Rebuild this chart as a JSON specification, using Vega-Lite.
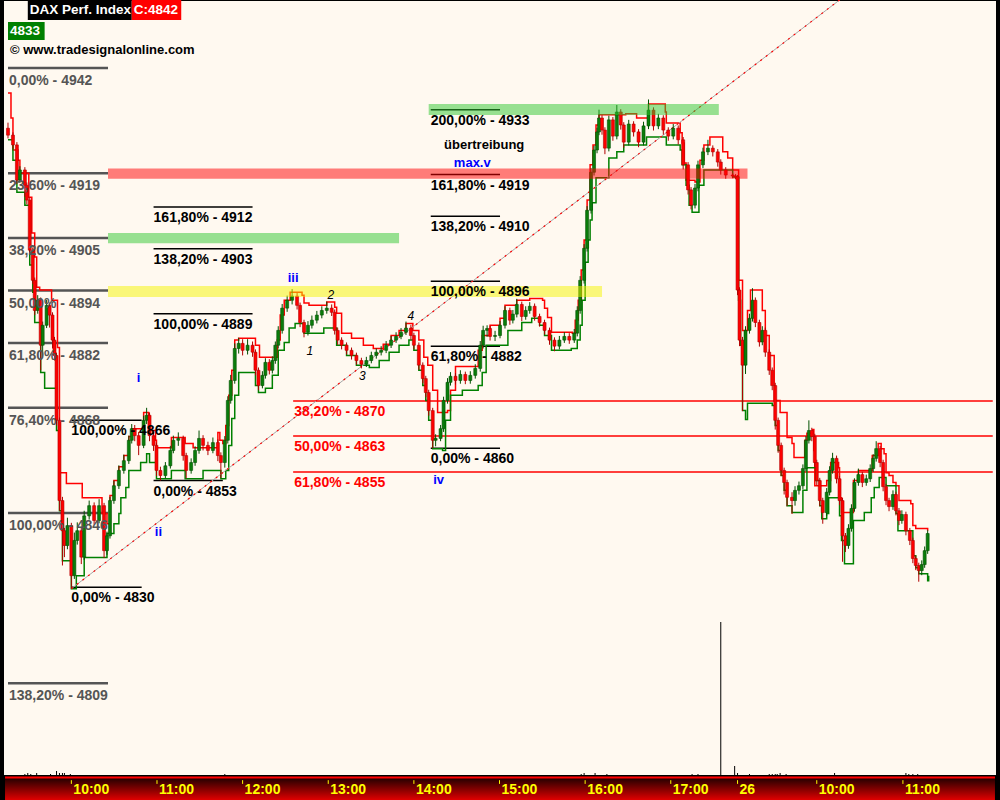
{
"$schema": "https://vega.github.io/schema/vega-lite/v6.json",
"width": 994, "height": 776,
"autosize": {"type": "none"},
"padding": {"left": 3, "right": 3, "top": 0, "bottom": 24},
"background": "#000000",
"config": {"view": {"fill": "#FFF9F0", "stroke": "#000000", "strokeWidth": 2}, "font": "Liberation Sans"},
"datasets": {
"candles": [
{"t":0.26,"o":4929.0,"h":4930.2,"l":4926.8,"c":4927.5},
{"t":0.318,"o":4927.5,"h":4928.1,"l":4924.6,"c":4925.4},
{"t":0.364,"o":4925.4,"h":4926.0,"l":4917.0,"c":4917.8},
{"t":0.399,"o":4917.8,"h":4920.8,"l":4917.2,"c":4920.0},
{"t":0.457,"o":4920.0,"h":4920.6,"l":4914.2,"c":4916.7},
{"t":0.48,"o":4916.7,"h":4917.3,"l":4912.6,"c":4913.5},
{"t":0.514,"o":4913.5,"h":4914.1,"l":4901.9,"c":4902.7},
{"t":0.549,"o":4902.7,"h":4903.3,"l":4895.4,"c":4896.2},
{"t":0.572,"o":4896.2,"h":4896.8,"l":4888.7,"c":4889.7},
{"t":0.607,"o":4889.7,"h":4893.0,"l":4889.0,"c":4891.9},
{"t":0.642,"o":4891.9,"h":4892.5,"l":4876.8,"c":4882.2},
{"t":0.665,"o":4882.2,"h":4887.3,"l":4880.0,"c":4886.5},
{"t":0.711,"o":4886.5,"h":4892.0,"l":4885.9,"c":4890.8},
{"t":0.746,"o":4890.8,"h":4891.4,"l":4886.0,"c":4888.7},
{"t":0.78,"o":4888.7,"h":4889.3,"l":4881.5,"c":4883.3},
{"t":0.803,"o":4883.3,"h":4884.0,"l":4878.9,"c":4880.0},
{"t":0.827,"o":4880.0,"h":4880.6,"l":4864.9,"c":4866.0},
{"t":0.861,"o":4866.0,"h":4866.6,"l":4846.5,"c":4848.7},
{"t":0.896,"o":4848.7,"h":4849.5,"l":4834.7,"c":4842.2},
{"t":0.919,"o":4842.2,"h":4842.8,"l":4836.5,"c":4839.0},
{"t":0.954,"o":4839.0,"h":4845.0,"l":4838.2,"c":4843.3},
{"t":1.0,"o":4843.3,"h":4843.9,"l":4829.7,"c":4832.5},
{"t":1.035,"o":4832.5,"h":4841.8,"l":4831.8,"c":4840.1},
{"t":1.069,"o":4840.1,"h":4844.0,"l":4839.2,"c":4842.2},
{"t":1.116,"o":4842.2,"h":4842.8,"l":4835.0,"c":4836.5},
{"t":1.15,"o":4836.5,"h":4846.5,"l":4835.9,"c":4845.4},
{"t":1.208,"o":4845.4,"h":4848.7,"l":4844.6,"c":4847.6},
{"t":1.266,"o":4847.6,"h":4848.3,"l":4843.5,"c":4844.4},
{"t":1.324,"o":4844.4,"h":4849.0,"l":4843.8,"c":4847.6},
{"t":1.382,"o":4847.6,"h":4848.2,"l":4836.3,"c":4837.9},
{"t":1.416,"o":4837.9,"h":4842.0,"l":4837.0,"c":4841.1},
{"t":1.451,"o":4841.1,"h":4849.5,"l":4840.5,"c":4848.7},
{"t":1.497,"o":4848.7,"h":4853.0,"l":4848.0,"c":4851.9},
{"t":1.555,"o":4851.9,"h":4856.3,"l":4851.2,"c":4855.2},
{"t":1.613,"o":4855.2,"h":4858.6,"l":4854.5,"c":4857.3},
{"t":1.671,"o":4857.3,"h":4862.7,"l":4856.6,"c":4861.7},
{"t":1.705,"o":4861.7,"h":4865.2,"l":4861.0,"c":4864.2},
{"t":1.74,"o":4864.2,"h":4865.0,"l":4861.5,"c":4862.7},
{"t":1.786,"o":4862.7,"h":4863.5,"l":4858.5,"c":4860.6},
{"t":1.844,"o":4860.6,"h":4867.0,"l":4860.0,"c":4866.0},
{"t":1.879,"o":4866.0,"h":4868.7,"l":4865.2,"c":4867.1},
{"t":1.913,"o":4867.1,"h":4867.7,"l":4861.5,"c":4862.7},
{"t":1.96,"o":4862.7,"h":4863.5,"l":4859.4,"c":4860.6},
{"t":1.994,"o":4860.6,"h":4861.2,"l":4854.0,"c":4855.2},
{"t":2.04,"o":4855.2,"h":4856.0,"l":4853.0,"c":4854.1},
{"t":2.098,"o":4854.1,"h":4857.0,"l":4853.5,"c":4856.2},
{"t":2.156,"o":4856.2,"h":4860.5,"l":4855.6,"c":4859.5},
{"t":2.191,"o":4859.5,"h":4862.7,"l":4858.9,"c":4861.7},
{"t":2.249,"o":4861.7,"h":4863.4,"l":4860.5,"c":4862.1},
{"t":2.306,"o":4862.1,"h":4862.7,"l":4857.3,"c":4858.4},
{"t":2.341,"o":4858.4,"h":4859.0,"l":4853.5,"c":4855.2},
{"t":2.399,"o":4855.2,"h":4857.8,"l":4854.5,"c":4856.9},
{"t":2.445,"o":4856.9,"h":4860.4,"l":4856.2,"c":4859.5},
{"t":2.491,"o":4859.5,"h":4863.8,"l":4858.8,"c":4862.1},
{"t":2.538,"o":4862.1,"h":4862.8,"l":4859.5,"c":4860.6},
{"t":2.595,"o":4860.6,"h":4861.4,"l":4858.5,"c":4859.5},
{"t":2.653,"o":4859.5,"h":4862.3,"l":4858.9,"c":4861.2},
{"t":2.711,"o":4861.2,"h":4861.9,"l":4857.2,"c":4858.4},
{"t":2.746,"o":4858.4,"h":4859.1,"l":4853.6,"c":4856.9},
{"t":2.792,"o":4856.9,"h":4862.6,"l":4855.8,"c":4861.7},
{"t":2.827,"o":4861.7,"h":4871.2,"l":4861.0,"c":4870.3},
{"t":2.861,"o":4870.3,"h":4875.8,"l":4869.6,"c":4874.6},
{"t":2.908,"o":4874.6,"h":4882.6,"l":4873.9,"c":4881.5},
{"t":2.954,"o":4881.5,"h":4883.8,"l":4880.4,"c":4882.6},
{"t":3.0,"o":4882.6,"h":4883.5,"l":4880.0,"c":4881.1},
{"t":3.058,"o":4881.1,"h":4883.5,"l":4880.2,"c":4882.2},
{"t":3.116,"o":4882.2,"h":4883.0,"l":4879.7,"c":4880.7},
{"t":3.15,"o":4880.7,"h":4881.3,"l":4875.7,"c":4876.8},
{"t":3.185,"o":4876.8,"h":4877.4,"l":4872.5,"c":4873.5},
{"t":3.231,"o":4873.5,"h":4876.6,"l":4872.9,"c":4875.7},
{"t":3.266,"o":4875.7,"h":4879.4,"l":4875.0,"c":4878.5},
{"t":3.312,"o":4878.5,"h":4879.2,"l":4875.9,"c":4876.8},
{"t":3.347,"o":4876.8,"h":4879.8,"l":4876.1,"c":4878.9},
{"t":3.382,"o":4878.9,"h":4883.0,"l":4878.2,"c":4882.2},
{"t":3.416,"o":4882.2,"h":4886.3,"l":4881.5,"c":4885.4},
{"t":3.462,"o":4885.4,"h":4891.1,"l":4884.7,"c":4890.2},
{"t":3.52,"o":4890.2,"h":4892.9,"l":4889.4,"c":4891.9},
{"t":3.578,"o":4891.9,"h":4894.3,"l":4891.0,"c":4892.8},
{"t":3.636,"o":4892.8,"h":4893.5,"l":4889.9,"c":4890.8},
{"t":3.671,"o":4890.8,"h":4891.4,"l":4886.1,"c":4887.1},
{"t":3.717,"o":4887.1,"h":4887.7,"l":4883.9,"c":4885.0},
{"t":3.763,"o":4885.0,"h":4887.4,"l":4884.3,"c":4886.5},
{"t":3.809,"o":4886.5,"h":4888.6,"l":4885.8,"c":4887.6},
{"t":3.867,"o":4887.6,"h":4889.6,"l":4886.9,"c":4888.7},
{"t":3.925,"o":4888.7,"h":4890.6,"l":4888.0,"c":4889.7},
{"t":3.983,"o":4889.7,"h":4891.6,"l":4889.0,"c":4890.2},
{"t":4.04,"o":4890.2,"h":4891.0,"l":4888.5,"c":4889.3},
{"t":4.075,"o":4889.3,"h":4889.9,"l":4884.5,"c":4885.4},
{"t":4.11,"o":4885.4,"h":4886.0,"l":4882.3,"c":4883.3},
{"t":4.156,"o":4883.3,"h":4883.9,"l":4881.3,"c":4882.2},
{"t":4.214,"o":4882.2,"h":4882.8,"l":4880.2,"c":4881.1},
{"t":4.272,"o":4881.1,"h":4881.7,"l":4879.1,"c":4880.0},
{"t":4.329,"o":4880.0,"h":4880.6,"l":4878.0,"c":4878.9},
{"t":4.387,"o":4878.9,"h":4879.5,"l":4877.2,"c":4878.1},
{"t":4.445,"o":4878.1,"h":4879.7,"l":4877.5,"c":4878.9},
{"t":4.503,"o":4878.9,"h":4880.8,"l":4878.3,"c":4880.0},
{"t":4.561,"o":4880.0,"h":4881.5,"l":4879.3,"c":4880.7},
{"t":4.618,"o":4880.7,"h":4882.0,"l":4880.0,"c":4881.1},
{"t":4.676,"o":4881.1,"h":4883.1,"l":4880.5,"c":4882.2},
{"t":4.734,"o":4882.2,"h":4884.2,"l":4881.6,"c":4883.3},
{"t":4.792,"o":4883.3,"h":4885.0,"l":4882.7,"c":4884.1},
{"t":4.85,"o":4884.1,"h":4885.9,"l":4883.5,"c":4885.0},
{"t":4.908,"o":4885.0,"h":4887.3,"l":4884.4,"c":4885.9},
{"t":4.965,"o":4885.9,"h":4886.6,"l":4883.4,"c":4884.3},
{"t":5.0,"o":4884.3,"h":4884.9,"l":4881.3,"c":4882.2},
{"t":5.058,"o":4882.2,"h":4882.8,"l":4876.9,"c":4877.9},
{"t":5.104,"o":4877.9,"h":4878.5,"l":4874.0,"c":4875.0},
{"t":5.139,"o":4875.0,"h":4875.6,"l":4871.0,"c":4872.0},
{"t":5.173,"o":4872.0,"h":4872.6,"l":4867.0,"c":4868.1},
{"t":5.22,"o":4868.1,"h":4868.7,"l":4860.0,"c":4861.7},
{"t":5.254,"o":4861.7,"h":4863.0,"l":4860.4,"c":4862.1},
{"t":5.312,"o":4862.1,"h":4865.0,"l":4861.5,"c":4864.2},
{"t":5.347,"o":4864.2,"h":4871.1,"l":4863.5,"c":4870.3},
{"t":5.393,"o":4870.3,"h":4875.1,"l":4869.6,"c":4874.2},
{"t":5.428,"o":4874.2,"h":4876.4,"l":4873.5,"c":4875.5},
{"t":5.486,"o":4875.5,"h":4876.2,"l":4873.7,"c":4874.6},
{"t":5.543,"o":4874.6,"h":4876.8,"l":4873.9,"c":4875.9},
{"t":5.601,"o":4875.9,"h":4876.5,"l":4873.8,"c":4874.6},
{"t":5.659,"o":4874.6,"h":4876.6,"l":4873.9,"c":4875.7},
{"t":5.717,"o":4875.7,"h":4878.1,"l":4875.0,"c":4877.2},
{"t":5.775,"o":4877.2,"h":4883.1,"l":4876.5,"c":4882.2},
{"t":5.809,"o":4882.2,"h":4886.4,"l":4881.5,"c":4885.4},
{"t":5.855,"o":4885.4,"h":4886.5,"l":4884.0,"c":4885.8},
{"t":5.89,"o":4885.8,"h":4886.4,"l":4883.2,"c":4884.1},
{"t":5.948,"o":4884.1,"h":4885.3,"l":4883.1,"c":4884.3},
{"t":6.006,"o":4884.3,"h":4887.4,"l":4883.7,"c":4886.5},
{"t":6.064,"o":4886.5,"h":4890.6,"l":4885.8,"c":4889.7},
{"t":6.121,"o":4889.7,"h":4890.3,"l":4886.6,"c":4887.6},
{"t":6.156,"o":4887.6,"h":4889.8,"l":4886.9,"c":4888.9},
{"t":6.202,"o":4888.9,"h":4892.2,"l":4888.2,"c":4891.0},
{"t":6.26,"o":4891.0,"h":4891.6,"l":4887.4,"c":4888.4},
{"t":6.306,"o":4888.4,"h":4890.6,"l":4887.7,"c":4889.7},
{"t":6.353,"o":4889.7,"h":4891.5,"l":4889.0,"c":4890.6},
{"t":6.41,"o":4890.6,"h":4891.2,"l":4887.5,"c":4888.4},
{"t":6.468,"o":4888.4,"h":4889.0,"l":4886.2,"c":4887.1},
{"t":6.526,"o":4887.1,"h":4887.7,"l":4884.5,"c":4885.4},
{"t":6.584,"o":4885.4,"h":4886.0,"l":4882.3,"c":4883.3},
{"t":6.642,"o":4883.3,"h":4883.9,"l":4880.9,"c":4882.0},
{"t":6.699,"o":4882.0,"h":4884.2,"l":4881.3,"c":4883.3},
{"t":6.757,"o":4883.3,"h":4885.0,"l":4882.7,"c":4884.1},
{"t":6.815,"o":4884.1,"h":4884.8,"l":4882.5,"c":4883.3},
{"t":6.873,"o":4883.3,"h":4885.7,"l":4882.7,"c":4884.8},
{"t":6.908,"o":4884.8,"h":4890.6,"l":4884.1,"c":4889.7},
{"t":6.942,"o":4889.7,"h":4897.1,"l":4889.0,"c":4896.2},
{"t":6.988,"o":4896.2,"h":4904.0,"l":4895.5,"c":4903.1},
{"t":7.023,"o":4903.1,"h":4912.2,"l":4902.4,"c":4911.3},
{"t":7.069,"o":4911.3,"h":4920.4,"l":4910.6,"c":4919.5},
{"t":7.104,"o":4919.5,"h":4925.2,"l":4918.8,"c":4924.3},
{"t":7.139,"o":4924.3,"h":4929.1,"l":4923.6,"c":4928.2},
{"t":7.162,"o":4928.2,"h":4933.0,"l":4927.5,"c":4931.2},
{"t":7.197,"o":4931.2,"h":4931.8,"l":4927.6,"c":4928.6},
{"t":7.231,"o":4928.6,"h":4929.2,"l":4923.4,"c":4924.7},
{"t":7.277,"o":4924.7,"h":4931.7,"l":4924.0,"c":4930.8},
{"t":7.324,"o":4930.8,"h":4931.4,"l":4926.3,"c":4927.3},
{"t":7.37,"o":4927.3,"h":4934.0,"l":4926.6,"c":4932.5},
{"t":7.416,"o":4932.5,"h":4933.1,"l":4928.7,"c":4929.7},
{"t":7.451,"o":4929.7,"h":4930.3,"l":4924.8,"c":4926.0},
{"t":7.509,"o":4926.0,"h":4930.8,"l":4925.3,"c":4929.9},
{"t":7.566,"o":4929.9,"h":4930.5,"l":4927.2,"c":4928.2},
{"t":7.624,"o":4928.2,"h":4928.8,"l":4924.9,"c":4926.0},
{"t":7.682,"o":4926.0,"h":4930.4,"l":4925.3,"c":4929.5},
{"t":7.74,"o":4929.5,"h":4935.2,"l":4928.8,"c":4932.9},
{"t":7.798,"o":4932.9,"h":4933.5,"l":4928.5,"c":4929.5},
{"t":7.855,"o":4929.5,"h":4932.1,"l":4928.8,"c":4931.2},
{"t":7.913,"o":4931.2,"h":4931.8,"l":4927.6,"c":4928.6},
{"t":7.971,"o":4928.6,"h":4929.2,"l":4926.3,"c":4927.3},
{"t":8.029,"o":4927.3,"h":4929.9,"l":4926.6,"c":4929.0},
{"t":8.087,"o":4929.0,"h":4929.6,"l":4925.5,"c":4926.5},
{"t":8.145,"o":4926.5,"h":4927.1,"l":4920.1,"c":4921.1},
{"t":8.202,"o":4921.1,"h":4921.7,"l":4914.7,"c":4915.7},
{"t":8.237,"o":4915.7,"h":4916.3,"l":4911.5,"c":4912.4},
{"t":8.283,"o":4912.4,"h":4917.0,"l":4911.7,"c":4916.1},
{"t":8.318,"o":4916.1,"h":4922.0,"l":4915.4,"c":4921.1},
{"t":8.376,"o":4921.1,"h":4924.8,"l":4920.4,"c":4923.9},
{"t":8.434,"o":4923.9,"h":4926.5,"l":4923.2,"c":4924.7},
{"t":8.491,"o":4924.7,"h":4925.3,"l":4922.9,"c":4923.9},
{"t":8.549,"o":4923.9,"h":4924.5,"l":4920.7,"c":4921.7},
{"t":8.584,"o":4921.7,"h":4922.3,"l":4919.0,"c":4920.0},
{"t":8.642,"o":4920.0,"h":4920.6,"l":4918.1,"c":4918.9},
{"t":8.723,"o":4918.9,"h":4919.3,"l":4918.2,"c":4918.7},
{"t":8.757,"o":4918.7,"h":4919.1,"l":4918.0,"c":4918.5},
{"t":8.78,"o":4918.5,"h":4918.9,"l":4893.0,"c":4894.1},
{"t":8.803,"o":4894.1,"h":4894.7,"l":4882.0,"c":4883.3},
{"t":8.838,"o":4883.3,"h":4884.0,"l":4868.0,"c":4877.9},
{"t":8.873,"o":4877.9,"h":4886.3,"l":4876.0,"c":4885.4},
{"t":8.919,"o":4885.4,"h":4889.0,"l":4884.7,"c":4888.0},
{"t":8.954,"o":4888.0,"h":4894.5,"l":4887.3,"c":4891.9},
{"t":8.988,"o":4891.9,"h":4892.5,"l":4886.1,"c":4887.1},
{"t":9.035,"o":4887.1,"h":4887.7,"l":4881.9,"c":4882.9},
{"t":9.069,"o":4882.9,"h":4886.3,"l":4882.2,"c":4885.4},
{"t":9.104,"o":4885.4,"h":4886.0,"l":4879.7,"c":4880.7},
{"t":9.15,"o":4880.7,"h":4881.3,"l":4875.8,"c":4876.8},
{"t":9.185,"o":4876.8,"h":4877.4,"l":4872.5,"c":4873.5},
{"t":9.22,"o":4873.5,"h":4874.1,"l":4864.0,"c":4866.0},
{"t":9.254,"o":4866.0,"h":4866.6,"l":4859.0,"c":4860.6},
{"t":9.289,"o":4860.6,"h":4861.2,"l":4854.0,"c":4855.2},
{"t":9.324,"o":4855.2,"h":4855.8,"l":4850.0,"c":4852.6},
{"t":9.358,"o":4852.6,"h":4853.2,"l":4847.5,"c":4849.4},
{"t":9.416,"o":4849.4,"h":4850.5,"l":4845.8,"c":4848.7},
{"t":9.451,"o":4848.7,"h":4851.8,"l":4847.6,"c":4850.9},
{"t":9.497,"o":4850.9,"h":4852.8,"l":4850.0,"c":4851.9},
{"t":9.543,"o":4851.9,"h":4856.5,"l":4851.2,"c":4855.6},
{"t":9.578,"o":4855.6,"h":4862.6,"l":4855.0,"c":4861.7},
{"t":9.613,"o":4861.7,"h":4866.0,"l":4861.0,"c":4863.8},
{"t":9.647,"o":4863.8,"h":4864.4,"l":4861.5,"c":4862.5},
{"t":9.682,"o":4862.5,"h":4863.1,"l":4855.9,"c":4856.9},
{"t":9.705,"o":4856.9,"h":4857.5,"l":4852.0,"c":4853.0},
{"t":9.74,"o":4853.0,"h":4853.6,"l":4847.5,"c":4848.7},
{"t":9.775,"o":4848.7,"h":4849.3,"l":4843.7,"c":4846.1},
{"t":9.821,"o":4846.1,"h":4851.4,"l":4845.4,"c":4850.5},
{"t":9.855,"o":4850.5,"h":4856.1,"l":4849.8,"c":4855.2},
{"t":9.89,"o":4855.2,"h":4859.0,"l":4854.5,"c":4857.8},
{"t":9.936,"o":4857.8,"h":4858.4,"l":4852.4,"c":4853.4},
{"t":9.971,"o":4853.4,"h":4854.0,"l":4847.7,"c":4848.7},
{"t":10.006,"o":4848.7,"h":4849.3,"l":4835.5,"c":4841.1},
{"t":10.04,"o":4841.1,"h":4841.7,"l":4837.6,"c":4839.0},
{"t":10.075,"o":4839.0,"h":4843.6,"l":4838.3,"c":4842.7},
{"t":10.11,"o":4842.7,"h":4847.9,"l":4842.0,"c":4847.0},
{"t":10.145,"o":4847.0,"h":4853.5,"l":4846.3,"c":4852.6},
{"t":10.191,"o":4852.6,"h":4855.6,"l":4851.9,"c":4854.3},
{"t":10.237,"o":4854.3,"h":4854.9,"l":4851.6,"c":4852.6},
{"t":10.283,"o":4852.6,"h":4854.3,"l":4851.9,"c":4853.4},
{"t":10.329,"o":4853.4,"h":4856.5,"l":4852.7,"c":4855.6},
{"t":10.364,"o":4855.6,"h":4858.7,"l":4854.9,"c":4857.8},
{"t":10.399,"o":4857.8,"h":4861.5,"l":4857.1,"c":4859.9},
{"t":10.445,"o":4859.9,"h":4860.5,"l":4855.9,"c":4856.9},
{"t":10.48,"o":4856.9,"h":4857.5,"l":4850.7,"c":4851.7},
{"t":10.514,"o":4851.7,"h":4852.3,"l":4847.7,"c":4848.7},
{"t":10.549,"o":4848.7,"h":4849.3,"l":4846.4,"c":4847.4},
{"t":10.595,"o":4847.4,"h":4850.9,"l":4846.7,"c":4850.0},
{"t":10.63,"o":4850.0,"h":4850.6,"l":4845.5,"c":4846.5},
{"t":10.665,"o":4846.5,"h":4847.1,"l":4843.4,"c":4844.4},
{"t":10.699,"o":4844.4,"h":4846.6,"l":4843.7,"c":4845.7},
{"t":10.746,"o":4845.7,"h":4846.3,"l":4841.2,"c":4842.2},
{"t":10.792,"o":4842.2,"h":4842.8,"l":4839.1,"c":4840.1},
{"t":10.827,"o":4840.1,"h":4840.7,"l":4835.2,"c":4836.2},
{"t":10.861,"o":4836.2,"h":4836.8,"l":4833.7,"c":4834.7},
{"t":10.896,"o":4834.7,"h":4835.3,"l":4831.2,"c":4833.6},
{"t":10.931,"o":4833.6,"h":4835.8,"l":4832.6,"c":4834.9},
{"t":10.965,"o":4834.9,"h":4838.8,"l":4834.2,"c":4837.9},
{"t":11.0,"o":4837.9,"h":4842.3,"l":4837.2,"c":4841.6}
],
"steps": [
{"t":0.26,"v":4936.6,"s":"r"},{"t":0.295,"v":4931.2,"s":"r"},{"t":0.318,"v":4924.3,"s":"r"},{"t":0.376,"v":4922.1,"s":"r"},{"t":0.399,"v":4919.3,"s":"r"},{"t":0.503,"v":4914.1,"s":"r"},{"t":0.538,"v":4906.4,"s":"r"},{"t":0.572,"v":4901.2,"s":"r"},{"t":0.595,"v":4894.7,"s":"r"},{"t":0.63,"v":4894.1,"s":"r"},{"t":0.769,"v":4891.9,"s":"r"},{"t":0.838,"v":4881.7,"s":"r"},{"t":0.861,"v":4854.7,"s":"r"},{"t":0.942,"v":4852.4,"s":"r"},{"t":1.127,"v":4849.3,"s":"r"},{"t":1.358,"v":4845.9,"s":"r"},{"t":1.416,"v":4843.7,"s":"r"},{"t":1.451,"v":4849.8,"s":"r"},{"t":1.497,"v":4853.0,"s":"r"},{"t":1.555,"v":4856.0,"s":"r"},{"t":1.613,"v":4858.4,"s":"r"},{"t":1.671,"v":4862.5,"s":"r"},{"t":1.705,"v":4864.2,"s":"r"},{"t":1.844,"v":4867.7,"s":"r"},{"t":1.902,"v":4863.8,"s":"r"},{"t":1.983,"v":4861.7,"s":"r"},{"t":1.994,"v":4860.1,"s":"r"},{"t":2.168,"v":4862.3,"s":"r"},{"t":2.329,"v":4861.0,"s":"r"},{"t":2.422,"v":4860.1,"s":"r"},{"t":2.711,"v":4863.4,"s":"r"},{"t":2.734,"v":4861.7,"s":"r"},{"t":2.769,"v":4861.0,"s":"r"},{"t":2.803,"v":4864.9,"s":"r"},{"t":2.838,"v":4871.4,"s":"r"},{"t":2.873,"v":4876.8,"s":"r"},{"t":2.908,"v":4883.3,"s":"r"},{"t":2.954,"v":4883.7,"s":"r"},{"t":3.15,"v":4882.2,"s":"r"},{"t":3.197,"v":4879.6,"s":"r"},{"t":3.382,"v":4879.6,"s":"r"},{"t":3.405,"v":4883.3,"s":"r"},{"t":3.439,"v":4888.7,"s":"r"},{"t":3.486,"v":4891.9,"s":"r"},{"t":3.555,"v":4893.6,"s":"r"},{"t":3.694,"v":4893.0,"s":"r"},{"t":3.717,"v":4891.3,"s":"r"},{"t":3.775,"v":4890.8,"s":"r"},{"t":3.983,"v":4891.5,"s":"r"},{"t":4.075,"v":4890.4,"s":"r"},{"t":4.098,"v":4889.1,"s":"r"},{"t":4.156,"v":4884.8,"s":"r"},{"t":4.272,"v":4883.7,"s":"r"},{"t":4.41,"v":4882.2,"s":"r"},{"t":4.526,"v":4881.5,"s":"r"},{"t":4.642,"v":4882.4,"s":"r"},{"t":4.734,"v":4884.3,"s":"r"},{"t":4.827,"v":4885.4,"s":"r"},{"t":4.908,"v":4886.9,"s":"r"},{"t":4.988,"v":4885.4,"s":"r"},{"t":5.058,"v":4883.3,"s":"r"},{"t":5.116,"v":4879.6,"s":"r"},{"t":5.162,"v":4877.9,"s":"r"},{"t":5.22,"v":4872.5,"s":"r"},{"t":5.277,"v":4867.7,"s":"r"},{"t":5.393,"v":4868.1,"s":"r"},{"t":5.428,"v":4872.5,"s":"r"},{"t":5.486,"v":4877.6,"s":"r"},{"t":5.751,"v":4881.1,"s":"r"},{"t":5.798,"v":4884.3,"s":"r"},{"t":5.89,"v":4886.5,"s":"r"},{"t":6.006,"v":4888.0,"s":"r"},{"t":6.064,"v":4890.8,"s":"r"},{"t":6.202,"v":4891.9,"s":"r"},{"t":6.353,"v":4892.3,"s":"r"},{"t":6.503,"v":4891.9,"s":"r"},{"t":6.526,"v":4890.2,"s":"r"},{"t":6.561,"v":4888.2,"s":"r"},{"t":6.607,"v":4885.0,"s":"r"},{"t":6.85,"v":4884.8,"s":"r"},{"t":6.884,"v":4887.6,"s":"r"},{"t":6.919,"v":4891.9,"s":"r"},{"t":6.954,"v":4898.4,"s":"r"},{"t":6.988,"v":4904.9,"s":"r"},{"t":7.023,"v":4913.5,"s":"r"},{"t":7.058,"v":4921.1,"s":"r"},{"t":7.092,"v":4925.4,"s":"r"},{"t":7.127,"v":4929.7,"s":"r"},{"t":7.162,"v":4931.9,"s":"r"},{"t":7.474,"v":4932.1,"s":"r"},{"t":7.601,"v":4931.2,"s":"r"},{"t":7.74,"v":4934.2,"s":"r"},{"t":7.936,"v":4932.5,"s":"r"},{"t":7.948,"v":4930.1,"s":"r"},{"t":8.11,"v":4928.0,"s":"r"},{"t":8.133,"v":4925.8,"s":"r"},{"t":8.156,"v":4921.5,"s":"r"},{"t":8.179,"v":4917.8,"s":"r"},{"t":8.283,"v":4917.4,"s":"r"},{"t":8.341,"v":4922.1,"s":"r"},{"t":8.387,"v":4925.4,"s":"r"},{"t":8.457,"v":4927.1,"s":"r"},{"t":8.607,"v":4923.9,"s":"r"},{"t":8.665,"v":4922.6,"s":"r"},{"t":8.723,"v":4920.0,"s":"r"},{"t":8.792,"v":4896.2,"s":"r"},{"t":8.838,"v":4885.4,"s":"r"},{"t":8.896,"v":4889.7,"s":"r"},{"t":8.931,"v":4894.1,"s":"r"},{"t":9.069,"v":4889.7,"s":"r"},{"t":9.104,"v":4884.3,"s":"r"},{"t":9.15,"v":4880.0,"s":"r"},{"t":9.208,"v":4870.3,"s":"r"},{"t":9.277,"v":4867.7,"s":"r"},{"t":9.358,"v":4862.3,"s":"r"},{"t":9.416,"v":4861.0,"s":"r"},{"t":9.439,"v":4858.0,"s":"r"},{"t":9.566,"v":4861.7,"s":"r"},{"t":9.59,"v":4863.2,"s":"r"},{"t":9.659,"v":4864.0,"s":"r"},{"t":9.671,"v":4859.5,"s":"r"},{"t":9.682,"v":4851.9,"s":"r"},{"t":9.821,"v":4853.0,"s":"r"},{"t":9.867,"v":4856.9,"s":"r"},{"t":9.96,"v":4855.8,"s":"r"},{"t":9.971,"v":4849.3,"s":"r"},{"t":9.994,"v":4846.1,"s":"r"},{"t":10.133,"v":4853.0,"s":"r"},{"t":10.191,"v":4855.2,"s":"r"},{"t":10.353,"v":4858.4,"s":"r"},{"t":10.422,"v":4861.0,"s":"r"},{"t":10.457,"v":4859.9,"s":"r"},{"t":10.491,"v":4858.8,"s":"r"},{"t":10.514,"v":4854.7,"s":"r"},{"t":10.549,"v":4854.1,"s":"r"},{"t":10.595,"v":4852.6,"s":"r"},{"t":10.63,"v":4851.9,"s":"r"},{"t":10.665,"v":4848.7,"s":"r"},{"t":10.803,"v":4848.0,"s":"r"},{"t":10.827,"v":4843.3,"s":"r"},{"t":10.861,"v":4842.7,"s":"r"},{"t":11.0,"v":4842.2,"s":"r"},
{"t":0.26,"v":4926.5,"s":"g"},{"t":0.318,"v":4922.1,"s":"g"},{"t":0.364,"v":4915.2,"s":"g"},{"t":0.457,"v":4912.4,"s":"g"},{"t":0.514,"v":4899.5,"s":"g"},{"t":0.549,"v":4893.6,"s":"g"},{"t":0.572,"v":4887.1,"s":"g"},{"t":0.642,"v":4876.3,"s":"g"},{"t":0.688,"v":4872.9,"s":"g"},{"t":0.827,"v":4863.8,"s":"g"},{"t":0.861,"v":4846.5,"s":"g"},{"t":0.896,"v":4835.7,"s":"g"},{"t":1.0,"v":4829.7,"s":"g"},{"t":1.058,"v":4832.5,"s":"g"},{"t":1.15,"v":4836.4,"s":"g"},{"t":1.416,"v":4841.6,"s":"g"},{"t":1.497,"v":4843.7,"s":"g"},{"t":1.555,"v":4845.9,"s":"g"},{"t":1.578,"v":4849.3,"s":"g"},{"t":1.636,"v":4851.5,"s":"g"},{"t":1.671,"v":4855.2,"s":"g"},{"t":1.809,"v":4856.9,"s":"g"},{"t":1.879,"v":4858.8,"s":"g"},{"t":1.913,"v":4856.9,"s":"g"},{"t":1.994,"v":4853.4,"s":"g"},{"t":2.168,"v":4855.2,"s":"g"},{"t":2.329,"v":4853.4,"s":"g"},{"t":2.538,"v":4855.2,"s":"g"},{"t":2.746,"v":4853.4,"s":"g"},{"t":2.803,"v":4855.2,"s":"g"},{"t":2.838,"v":4860.6,"s":"g"},{"t":2.873,"v":4866.4,"s":"g"},{"t":2.908,"v":4871.4,"s":"g"},{"t":2.954,"v":4876.3,"s":"g"},{"t":3.15,"v":4873.5,"s":"g"},{"t":3.185,"v":4872.0,"s":"g"},{"t":3.266,"v":4872.9,"s":"g"},{"t":3.347,"v":4875.7,"s":"g"},{"t":3.416,"v":4881.1,"s":"g"},{"t":3.486,"v":4882.8,"s":"g"},{"t":3.543,"v":4885.9,"s":"g"},{"t":3.613,"v":4886.9,"s":"g"},{"t":3.717,"v":4884.8,"s":"g"},{"t":3.948,"v":4885.9,"s":"g"},{"t":4.098,"v":4882.2,"s":"g"},{"t":4.214,"v":4880.0,"s":"g"},{"t":4.329,"v":4877.9,"s":"g"},{"t":4.48,"v":4877.4,"s":"g"},{"t":4.595,"v":4878.9,"s":"g"},{"t":4.711,"v":4880.7,"s":"g"},{"t":4.827,"v":4882.2,"s":"g"},{"t":4.942,"v":4883.3,"s":"g"},{"t":5.0,"v":4881.1,"s":"g"},{"t":5.058,"v":4876.8,"s":"g"},{"t":5.104,"v":4873.5,"s":"g"},{"t":5.139,"v":4870.3,"s":"g"},{"t":5.173,"v":4866.0,"s":"g"},{"t":5.22,"v":4859.9,"s":"g"},{"t":5.335,"v":4859.5,"s":"g"},{"t":5.37,"v":4866.0,"s":"g"},{"t":5.428,"v":4871.4,"s":"g"},{"t":5.566,"v":4872.5,"s":"g"},{"t":5.751,"v":4873.5,"s":"g"},{"t":5.798,"v":4876.3,"s":"g"},{"t":5.844,"v":4882.2,"s":"g"},{"t":6.098,"v":4885.4,"s":"g"},{"t":6.26,"v":4887.1,"s":"g"},{"t":6.376,"v":4888.0,"s":"g"},{"t":6.468,"v":4886.5,"s":"g"},{"t":6.526,"v":4884.3,"s":"g"},{"t":6.607,"v":4881.1,"s":"g"},{"t":6.838,"v":4881.5,"s":"g"},{"t":6.908,"v":4883.3,"s":"g"},{"t":6.942,"v":4886.5,"s":"g"},{"t":6.965,"v":4891.9,"s":"g"},{"t":7.0,"v":4900.1,"s":"g"},{"t":7.035,"v":4904.9,"s":"g"},{"t":7.058,"v":4909.2,"s":"g"},{"t":7.081,"v":4912.9,"s":"g"},{"t":7.127,"v":4918.3,"s":"g"},{"t":7.277,"v":4922.6,"s":"g"},{"t":7.37,"v":4923.9,"s":"g"},{"t":7.451,"v":4925.4,"s":"g"},{"t":7.717,"v":4927.1,"s":"g"},{"t":7.948,"v":4925.4,"s":"g"},{"t":8.11,"v":4924.3,"s":"g"},{"t":8.133,"v":4921.1,"s":"g"},{"t":8.179,"v":4916.7,"s":"g"},{"t":8.214,"v":4912.4,"s":"g"},{"t":8.249,"v":4910.9,"s":"g"},{"t":8.329,"v":4916.7,"s":"g"},{"t":8.387,"v":4920.0,"s":"g"},{"t":8.723,"v":4918.5,"s":"g"},{"t":8.792,"v":4891.9,"s":"g"},{"t":8.815,"v":4882.2,"s":"g"},{"t":8.838,"v":4868.1,"s":"g"},{"t":8.873,"v":4866.2,"s":"g"},{"t":8.896,"v":4869.7,"s":"g"},{"t":9.185,"v":4869.2,"s":"g"},{"t":9.22,"v":4864.9,"s":"g"},{"t":9.254,"v":4859.5,"s":"g"},{"t":9.289,"v":4854.1,"s":"g"},{"t":9.324,"v":4850.9,"s":"g"},{"t":9.358,"v":4847.6,"s":"g"},{"t":9.416,"v":4846.1,"s":"g"},{"t":9.543,"v":4850.9,"s":"g"},{"t":9.59,"v":4855.8,"s":"g"},{"t":9.694,"v":4853.0,"s":"g"},{"t":9.74,"v":4847.6,"s":"g"},{"t":9.763,"v":4844.8,"s":"g"},{"t":9.821,"v":4845.9,"s":"g"},{"t":9.844,"v":4849.3,"s":"g"},{"t":9.971,"v":4845.4,"s":"g"},{"t":9.994,"v":4840.1,"s":"g"},{"t":10.029,"v":4835.1,"s":"g"},{"t":10.133,"v":4844.4,"s":"g"},{"t":10.26,"v":4846.1,"s":"g"},{"t":10.341,"v":4849.3,"s":"g"},{"t":10.376,"v":4851.5,"s":"g"},{"t":10.434,"v":4853.7,"s":"g"},{"t":10.514,"v":4851.9,"s":"g"},{"t":10.63,"v":4845.9,"s":"g"},{"t":10.653,"v":4842.2,"s":"g"},{"t":10.827,"v":4836.8,"s":"g"},{"t":10.861,"v":4834.2,"s":"g"},{"t":10.896,"v":4832.9,"s":"g"},{"t":11.0,"v":4831.4,"s":"g"},{"t":11.012,"v":4832.5,"s":"g"}
],
"fibGrey": [
{"t1":0.2601,"t2":1.428,"p":4942,"label":"0,00% - 4942"},
{"t1":0.2601,"t2":1.428,"p":4919.3,"label":"23,60% - 4919"},
{"t1":0.2601,"t2":1.428,"p":4905.3,"label":"38,20% - 4905"},
{"t1":0.2601,"t2":1.428,"p":4894,"label":"50,00% - 4894"},
{"t1":0.2601,"t2":1.428,"p":4882.7,"label":"61,80% - 4882"},
{"t1":0.2601,"t2":1.428,"p":4868.7,"label":"76,40% - 4868"},
{"t1":0.2601,"t2":1.428,"p":4846,"label":"100,00% - 4846"},
{"t1":0.2601,"t2":1.428,"p":4809.3,"label":"138,20% - 4809"}
],
"fibBlack": [
{"t1":1.96,"t2":3.116,"p":4912,"label":"161,80% - 4912"},
{"t1":1.96,"t2":3.116,"p":4903,"label":"138,20% - 4903"},
{"t1":1.96,"t2":3.116,"p":4889,"label":"100,00% - 4889"},
{"t1":1.0,"t2":1.821,"p":4866,"label":"100,00% - 4866"},
{"t1":1.0,"t2":1.821,"p":4830,"label":"0,00% - 4830"},
{"t1":1.96,"t2":2.769,"p":4853,"label":"0,00% - 4853"},
{"t1":5.197,"t2":6.006,"p":4933,"label":"200,00% - 4933"},
{"t1":5.197,"t2":6.006,"p":4919,"label":"161,80% - 4919"},
{"t1":5.197,"t2":6.006,"p":4910,"label":"138,20% - 4910"},
{"t1":5.197,"t2":6.006,"p":4896,"label":"100,00% - 4896"},
{"t1":5.197,"t2":6.006,"p":4882,"label":"61,80% - 4882"},
{"t1":5.197,"t2":6.006,"p":4860,"label":"0,00% - 4860"}
],
"fibRed": [
{"t1":3.59,"t2":11.76,"p":4870.17,"label":"38,20% - 4870"},
{"t1":3.59,"t2":11.76,"p":4862.62,"label":"50,00% - 4863"},
{"t1":3.59,"t2":11.76,"p":4854.86,"label":"61,80% - 4855"}
],
"zones": [
{"t1":1.428,"t2":8.896,"p1":4920.3,"p2":4918.1,"k":"red"},
{"t1":1.428,"t2":4.827,"p1":4906.4,"p2":4904.2,"k":"green"},
{"t1":1.428,"t2":7.197,"p1":4894.97,"p2":4892.6,"k":"yellow"},
{"t1":5.173,"t2":8.561,"p1":4934.2,"p2":4931.85,"k":"green"}
],
"waves": [
{"t":1.786,"p":4875.13,"label":"i"},
{"t":2.017,"p":4841.92,"label":"ii"},
{"t":3.59,"p":4896.7,"label":"iii"},
{"t":5.289,"p":4853.13,"label":"iv"},
{"t":5.682,"p":4921.5,"label":"max.v"}
],
"subwaves": [
{"t":3.786,"p":4880.95,"label":"1"},
{"t":4.029,"p":4893.03,"label":"2"},
{"t":4.399,"p":4875.56,"label":"3"},
{"t":4.965,"p":4888.5,"label":"4"}
],
"notes": [{"t":5.821,"p":4925.38,"label":"übertreibung"}],
"diag": [{"t":1.0,"p":4829.7},{"t":10.2,"p":4959.9}],
"boxes": [
{"t1":0.4913,"t2":1.7052,"p1":4956.65,"p2":4952.34,"k":"black"},
{"t1":1.7052,"t2":2.2832,"p1":4956.65,"p2":4952.34,"k":"red"},
{"t1":0.2601,"t2":0.6879,"p1":4951.91,"p2":4948.02,"k":"green"}
],
"boxText": [
{"t":0.5145,"p":4954.4,"label":"DAX Perf. Index"},
{"t":1.7283,"p":4954.4,"label":"C:4842"},
{"t":0.2832,"p":4950.0,"label":"4833"}
],
"credit": [{"t":0.2832,"p":4945.87,"label":"© www.tradesignalonline.com"}],
"axisBand": [{"t1":0.2254,"t2":11.786,"p1":4789.3,"p2":4783.7}],
"timeTicks": [
{"t":1,"label":"10:00"},{"t":2,"label":"11:00"},{"t":3,"label":"12:00"},{"t":4,"label":"13:00"},{"t":5,"label":"14:00"},{"t":6,"label":"15:00"},{"t":7,"label":"16:00"},{"t":8,"label":"17:00"},{"t":8.78,"label":"26"},{"t":9.705,"label":"10:00"},{"t":10.711,"label":"11:00"}
],
"vol": [
{"t":0.457,"v":2},{"t":0.491,"v":3},{"t":0.526,"v":2},{"t":0.595,"v":3},{"t":0.757,"v":2},{"t":0.827,"v":5},{"t":0.861,"v":3},{"t":0.896,"v":3},{"t":0.919,"v":3},{"t":0.988,"v":2},{"t":1.624,"v":1},{"t":2.792,"v":2},{"t":2.988,"v":1},{"t":5.185,"v":1},{"t":6.954,"v":2},{"t":6.988,"v":3},{"t":7.116,"v":3},{"t":7.254,"v":2},{"t":8.249,"v":2},{"t":8.318,"v":2},{"t":8.584,"v":154},{"t":8.746,"v":10},{"t":8.78,"v":3},{"t":8.919,"v":2},{"t":9.15,"v":2},{"t":9.185,"v":2},{"t":9.22,"v":2},{"t":9.243,"v":2},{"t":9.277,"v":3},{"t":9.347,"v":2},{"t":9.52,"v":1},{"t":9.624,"v":1},{"t":9.728,"v":1},{"t":9.913,"v":3},{"t":9.983,"v":1},{"t":10.11,"v":1},{"t":10.48,"v":1},{"t":10.653,"v":1},{"t":10.746,"v":3},{"t":10.78,"v":2},{"t":10.827,"v":2},{"t":10.884,"v":2},{"t":10.942,"v":1}
]
},
"layer": [
{
"layer": [
{"data": {"name": "fibGrey"}, "mark": {"type": "rule", "color": "#555555", "strokeWidth": 2.5},
 "encoding": {
  "x": {"field": "t1", "type": "quantitative", "scale": {"domain": [0.2601, 11.7514], "nice": false, "zero": false}, "axis": null},
  "x2": {"field": "t2"},
  "y": {"field": "p", "type": "quantitative", "scale": {"domain": [4789.3, 4956.65], "nice": false, "zero": false}, "axis": null}}},
{"data": {"name": "fibBlack"}, "mark": {"type": "rule", "color": "#000000", "strokeWidth": 1.5},
 "encoding": {"x": {"field": "t1", "type": "quantitative", "axis": null}, "x2": {"field": "t2"}, "y": {"field": "p", "type": "quantitative", "axis": null}}},
{"data": {"name": "fibRed"}, "mark": {"type": "rule", "color": "#ff0000", "strokeWidth": 1.5},
 "encoding": {"x": {"field": "t1", "type": "quantitative", "axis": null}, "x2": {"field": "t2"}, "y": {"field": "p", "type": "quantitative", "axis": null}}},
{"data": {"name": "steps"}, "mark": {"type": "line", "interpolate": "step-after", "strokeWidth": 1.5},
 "encoding": {"x": {"field": "t", "type": "quantitative", "axis": null}, "y": {"field": "v", "type": "quantitative", "axis": null},
  "color": {"field": "s", "type": "nominal", "scale": {"domain": ["r", "g"], "range": ["#ff0000", "#008000"]}, "legend": null}}},
{"data": {"name": "diag"}, "mark": {"type": "line", "color": "#a8a8a8", "strokeWidth": 1, "clip": true},
 "encoding": {"x": {"field": "t", "type": "quantitative", "axis": null}, "y": {"field": "p", "type": "quantitative", "axis": null}}},
{"data": {"name": "diag"}, "mark": {"type": "line", "color": "#ff0000", "strokeWidth": 1.2, "strokeDash": [2, 5], "clip": true},
 "encoding": {"x": {"field": "t", "type": "quantitative", "axis": null}, "y": {"field": "p", "type": "quantitative", "axis": null}}},
{"data": {"name": "candles"}, "mark": {"type": "rule", "strokeWidth": 1},
 "encoding": {"x": {"field": "t", "type": "quantitative", "axis": null}, "y": {"field": "l", "type": "quantitative", "axis": null}, "y2": {"field": "h"},
  "color": {"condition": {"test": "datum.c >= datum.o", "value": "#005000"}, "value": "#b00000"}}},
{"data": {"name": "candles"}, "mark": {"type": "bar", "width": 3, "strokeWidth": 0.6},
 "encoding": {"x": {"field": "t", "type": "quantitative", "axis": null}, "y": {"field": "o", "type": "quantitative", "axis": null}, "y2": {"field": "c"},
  "fill": {"condition": {"test": "datum.c >= datum.o", "value": "#0a7d0a"}, "value": "#ff0000"},
  "stroke": {"condition": {"test": "datum.c >= datum.o", "value": "#005000"}, "value": "#b00000"}}},
{"data": {"name": "zones"}, "mark": {"type": "rect", "opacity": 0.5},
 "encoding": {"x": {"field": "t1", "type": "quantitative", "axis": null}, "x2": {"field": "t2"}, "y": {"field": "p1", "type": "quantitative", "axis": null}, "y2": {"field": "p2"},
  "fill": {"field": "k", "type": "nominal", "scale": {"domain": ["red", "green", "yellow"], "range": ["#ff0000", "#30c830", "#f6f600"]}, "legend": null}}},
{"data": {"name": "fibGrey"}, "mark": {"type": "text", "align": "left", "baseline": "middle", "dx": 1, "dy": 13, "fontSize": 14, "fontWeight": "bold", "color": "#555555"},
 "encoding": {"x": {"field": "t1", "type": "quantitative", "axis": null}, "y": {"field": "p", "type": "quantitative", "axis": null}, "text": {"field": "label"}}},
{"data": {"name": "fibBlack"}, "mark": {"type": "text", "align": "left", "baseline": "middle", "dx": 0, "dy": 11, "fontSize": 14, "fontWeight": "bold", "color": "#000000"},
 "encoding": {"x": {"field": "t1", "type": "quantitative", "axis": null}, "y": {"field": "p", "type": "quantitative", "axis": null}, "text": {"field": "label"}}},
{"data": {"name": "fibRed"}, "mark": {"type": "text", "align": "left", "baseline": "middle", "dx": 1, "dy": 11, "fontSize": 14, "fontWeight": "bold", "color": "#ff0000"},
 "encoding": {"x": {"field": "t1", "type": "quantitative", "axis": null}, "y": {"field": "p", "type": "quantitative", "axis": null}, "text": {"field": "label"}}},
{"data": {"name": "waves"}, "mark": {"type": "text", "align": "center", "baseline": "middle", "fontSize": 13, "fontWeight": "bold", "color": "#0000ff"},
 "encoding": {"x": {"field": "t", "type": "quantitative", "axis": null}, "y": {"field": "p", "type": "quantitative", "axis": null}, "text": {"field": "label"}}},
{"data": {"name": "subwaves"}, "mark": {"type": "text", "align": "center", "baseline": "middle", "fontSize": 12, "fontStyle": "italic", "color": "#000000"},
 "encoding": {"x": {"field": "t", "type": "quantitative", "axis": null}, "y": {"field": "p", "type": "quantitative", "axis": null}, "text": {"field": "label"}}},
{"data": {"name": "notes"}, "mark": {"type": "text", "align": "center", "baseline": "middle", "fontSize": 13, "fontWeight": "bold", "color": "#000000"},
 "encoding": {"x": {"field": "t", "type": "quantitative", "axis": null}, "y": {"field": "p", "type": "quantitative", "axis": null}, "text": {"field": "label"}}},
{"data": {"name": "boxes"}, "mark": {"type": "rect"},
 "encoding": {"x": {"field": "t1", "type": "quantitative", "axis": null}, "x2": {"field": "t2"}, "y": {"field": "p1", "type": "quantitative", "axis": null}, "y2": {"field": "p2"},
  "color": {"field": "k", "type": "nominal", "scale": {"domain": ["black", "red", "green"], "range": ["#000000", "#ff0000", "#008000"]}, "legend": null}}},
{"data": {"name": "boxText"}, "mark": {"type": "text", "align": "left", "baseline": "middle", "fontSize": 13.5, "fontWeight": "bold", "color": "#ffffff"},
 "encoding": {"x": {"field": "t", "type": "quantitative", "axis": null}, "y": {"field": "p", "type": "quantitative", "axis": null}, "text": {"field": "label"}}},
{"data": {"name": "credit"}, "mark": {"type": "text", "align": "left", "baseline": "middle", "fontSize": 13, "fontWeight": "bold", "color": "#000000"},
 "encoding": {"x": {"field": "t", "type": "quantitative", "axis": null}, "y": {"field": "p", "type": "quantitative", "axis": null}, "text": {"field": "label"}}},
{"data": {"name": "axisBand"}, "mark": {"type": "rect", "clip": false, "color": {"gradient": "linear", "x1": 0, "y1": 0, "x2": 0, "y2": 1, "stops": [{"offset": 0, "color": "#120000"}, {"offset": 1, "color": "#f00000"}]}},
 "encoding": {"x": {"field": "t1", "type": "quantitative", "axis": null}, "x2": {"field": "t2"}, "y": {"field": "p1", "type": "quantitative", "axis": null}, "y2": {"field": "p2"}}},
{"data": {"name": "axisBand"}, "mark": {"type": "rule", "clip": false, "color": "#ff0000", "strokeWidth": 2},
 "encoding": {"x": {"field": "t1", "type": "quantitative", "axis": null}, "x2": {"field": "t2"}, "y": {"datum": 4789.0, "type": "quantitative", "axis": null}}},
{"data": {"name": "timeTicks"}, "mark": {"type": "rule", "clip": false, "color": "#ffff00", "strokeWidth": 1},
 "encoding": {"x": {"field": "t", "type": "quantitative", "axis": null}, "y": {"datum": 4788.4, "type": "quantitative", "axis": null}, "y2": {"datum": 4787.6}}},
{"data": {"name": "timeTicks"}, "mark": {"type": "text", "clip": false, "align": "left", "baseline": "middle", "dx": 2, "fontSize": 14, "fontWeight": "bold", "color": "#ffff00"},
 "encoding": {"x": {"field": "t", "type": "quantitative", "axis": null}, "y": {"datum": 4786.3, "type": "quantitative", "axis": null}, "text": {"field": "label"}}}
],
"resolve": {"scale": {"color": "independent", "fill": "independent"}}
},
{"data": {"name": "vol"}, "mark": {"type": "rule", "color": "#000000", "strokeWidth": 1},
 "encoding": {"x": {"field": "t", "type": "quantitative", "axis": null}, "y": {"field": "v", "type": "quantitative", "scale": {"domain": [0, 776]}, "axis": null}, "y2": {"datum": 0}}}
],
"resolve": {"scale": {"y": "independent"}, "axis": {"y": "independent"}}
}
